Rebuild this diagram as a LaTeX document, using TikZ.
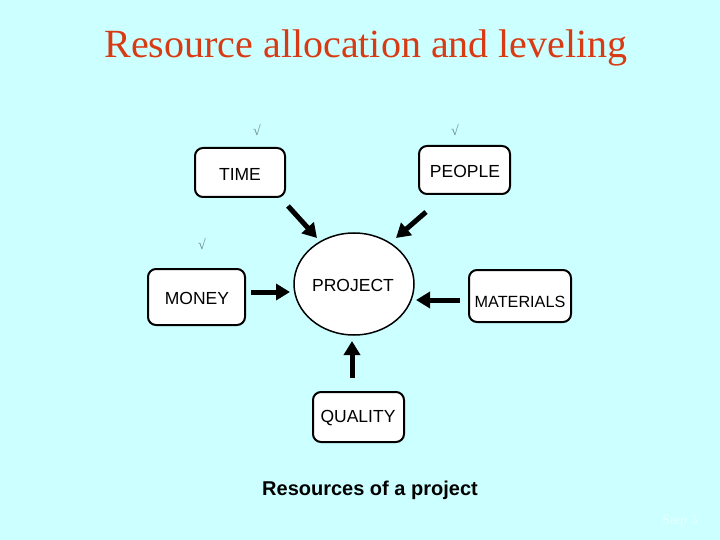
\documentclass[tikz,border=0pt]{standalone}
\usepackage{fontspec}
\setmainfont{Liberation Serif}
\newfontfamily\arialfont{Liberation Sans}
\usetikzlibrary{arrows.meta,shapes.geometric}
\definecolor{bgcyan}{HTML}{CCFFFF}
\definecolor{titlered}{HTML}{D83A14}
\definecolor{checkgray}{HTML}{6A8A8A}
\definecolor{stepcol}{HTML}{E8FFFF}
\tikzset{
  rbox/.style={draw=black, line width=2pt, rounded corners=8pt, fill=white, inner sep=0pt},
  boxtext/.style={font=\arialfont\fontsize{17.5}{20}\selectfont},
  bigarrow/.style={line width=5pt, -{Triangle[length=14pt,width=16pt]}},
  checkmark/.style={text=checkgray, font=\fontsize{14}{16}\selectfont},
}
\begin{document}
\begin{tikzpicture}[x=1pt,y=-1pt]
\useasboundingbox (0,0) rectangle (720,540);
\fill[bgcyan] (0,0) rectangle (720,540);
\node[titlered, font=\fontsize{40}{44}\selectfont] (title) at (366,48) {Resource allocation and leveling};
% check marks
\node[checkmark] (c1) at (257,130) {√};
\node[checkmark] (c2) at (455,130) {√};
\node[checkmark] (c3) at (202,244) {√};
% boxes
\node[rbox, minimum width=90pt, minimum height=49pt] (time) at (240,172.5) {};
\node[boxtext] (timet) at (240,174) {TIME};
\node[rbox, minimum width=91pt, minimum height=48pt] (people) at (464.5,170) {};
\node[boxtext] (peoplet) at (465,171) {PEOPLE};
\node[rbox, minimum width=97pt, minimum height=56pt] (money) at (196.5,297) {};
\node[boxtext] (moneyt) at (197,298) {MONEY};
\node[rbox, minimum width=102pt, minimum height=52pt] (materials) at (520,296) {};
\node[font=\arialfont\fontsize{16.2}{18}\selectfont] (materialst) at (520,302) {MATERIALS};
\node[rbox, minimum width=91pt, minimum height=50pt] (quality) at (358.5,417) {};
\node[boxtext] (qualityt) at (358,418) {QUALITY};
% project ellipse
\node[ellipse, draw=black, line width=1.5pt, fill=white, minimum width=120pt, minimum height=102pt] (project) at (354,284) {};
\node[boxtext] (projectt) at (353,285) {PROJECT};
% arrow ends
\coordinate (a1s) at (288,206);
\coordinate (a1e) at (317,238);
\coordinate (a2s) at (426,212);
\coordinate (a2e) at (396,238);
\coordinate (a3s) at (251,292);
\coordinate (a3e) at (290,292);
\coordinate (a4s) at (460,300);
\coordinate (a4e) at (416,300);
\coordinate (a5s) at (352,378);
\coordinate (a5e) at (352,341);
\draw[bigarrow] (a1s) -- (a1e);
\draw[bigarrow] (a2s) -- (a2e);
\draw[bigarrow] (a3s) -- (a3e);
\draw[bigarrow] (a4s) -- (a4e);
\draw[bigarrow] (a5s) -- (a5e);
% caption
\node[font=\arialfont\bfseries\fontsize{20}{24}\selectfont] (caption) at (370,490) {Resources of a project};
\node[text=stepcol, font=\fontsize{14}{16}\selectfont] (step) at (680,521) {Step 3};
\end{tikzpicture}
\end{document}
